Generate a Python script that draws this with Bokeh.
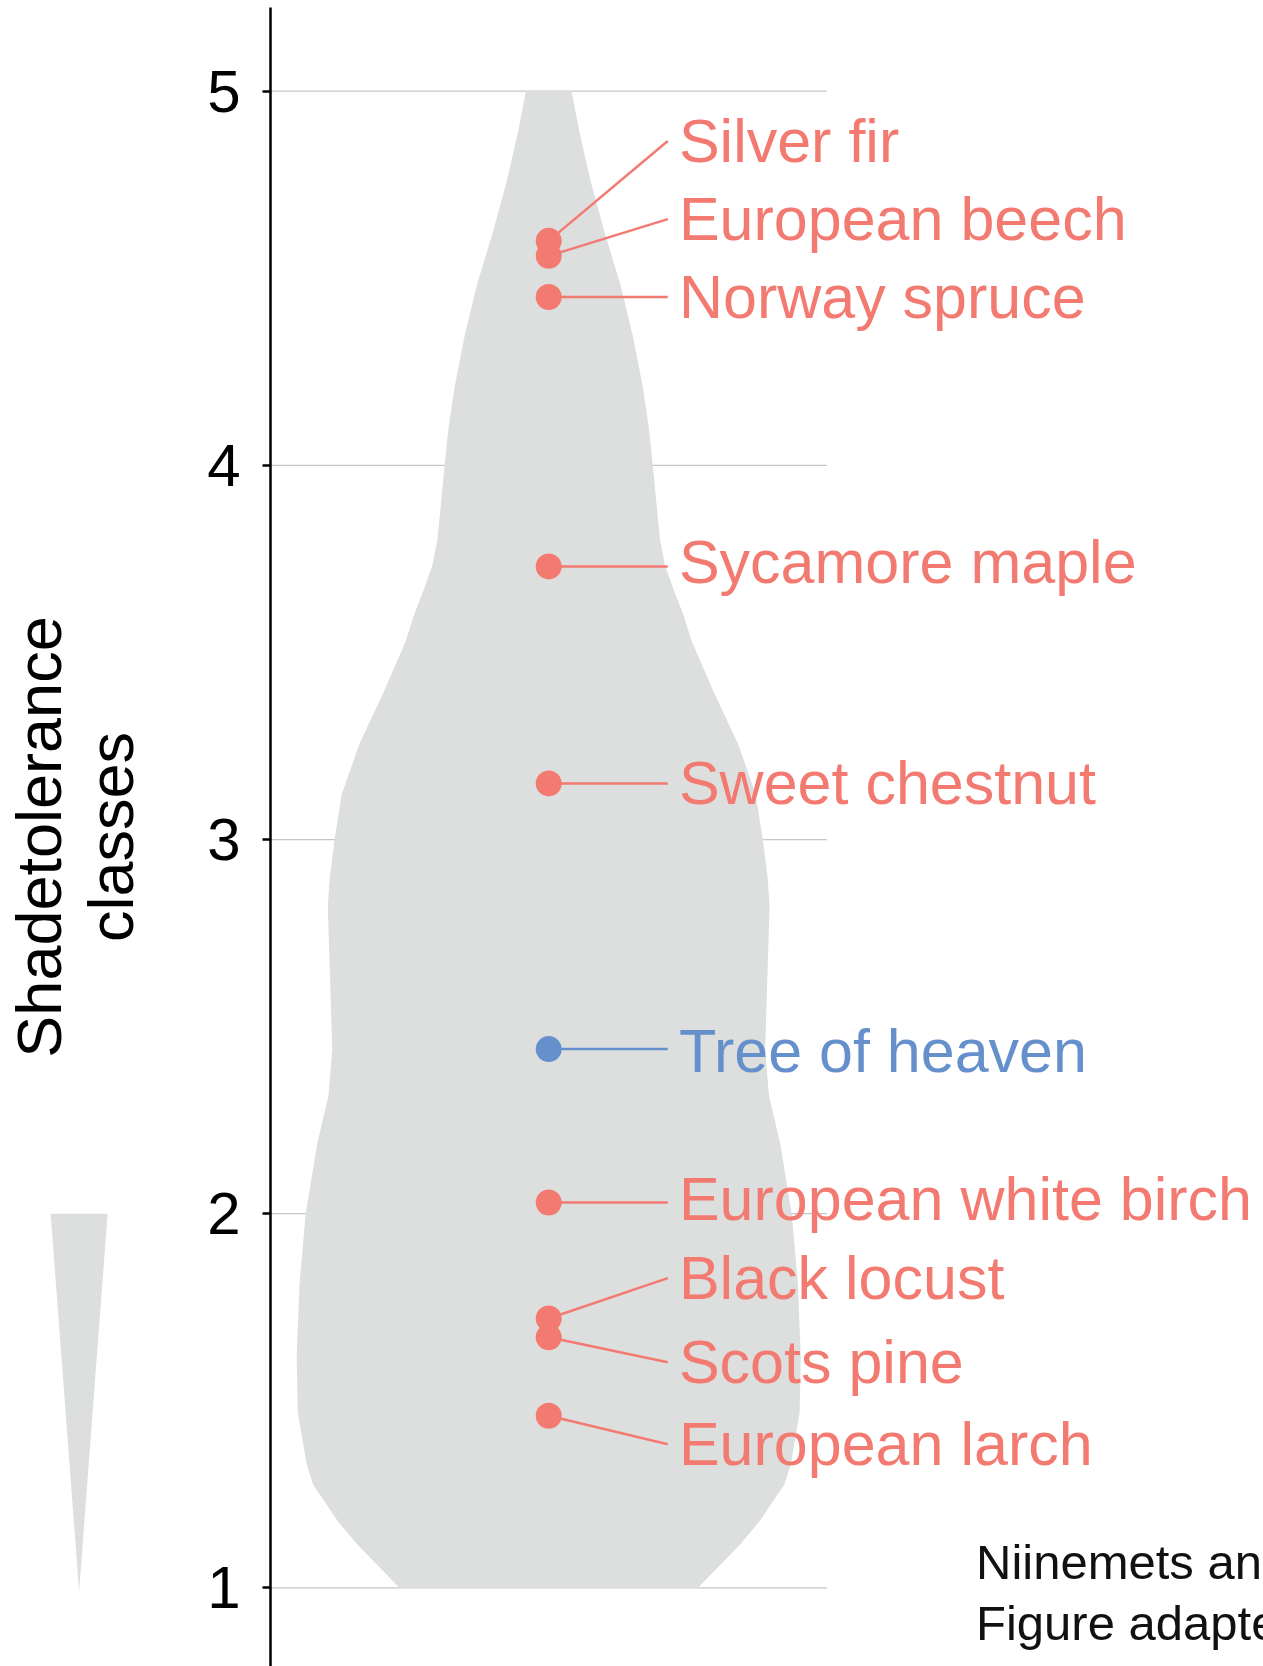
from bokeh.plotting import figure
from bokeh.models import LinearAxis, FixedTicker, Range1d, ColumnDataSource
from bokeh.embed import file_html
from bokeh.resources import INLINE
from bokeh.core.properties import value

# ---------------- data ----------------
species = ["Silver fir", "European beech", "Norway spruce", "Sycamore maple",
           "Sweet chestnut", "Tree of heaven", "European white birch",
           "Black locust", "Scots pine", "European larch"]
shade_tolerance = [4.60, 4.56, 4.45, 3.73, 3.15, 2.44, 2.03, 1.72, 1.67, 1.46]
status = ["native", "native", "native", "native", "native", "introduced",
          "native", "native", "native", "native"]

# repelled label positions (layout)
label_y = [4.867, 4.658, 4.451, 3.743, 3.150, 2.434, 2.038, 1.828, 1.603, 1.384]

# violin outline: density half-widths
violin_y = [5.0, 4.892, 4.756, 4.620, 4.483, 4.347, 4.211, 4.101, 4.0, 3.802,
            3.733, 3.666, 3.597, 3.530, 3.393, 3.257, 3.121, 2.998, 2.891,
            2.819, 2.629, 2.439, 2.314, 2.188, 1.998, 1.809, 1.620, 1.469,
            1.330, 1.274, 1.242, 1.178, 1.116, 1.052, 1.0]
violin_half = [0.041, 0.055, 0.076, 0.101, 0.129, 0.151, 0.169, 0.180, 0.187,
               0.200, 0.209, 0.225, 0.243, 0.257, 0.297, 0.340, 0.372, 0.385,
               0.394, 0.397, 0.393, 0.389, 0.396, 0.416, 0.437, 0.448, 0.453,
               0.451, 0.435, 0.423, 0.408, 0.379, 0.344, 0.302, 0.268]

tick_vals = [1, 2, 3, 4, 5]
caption = ["Niinemets and Valladares (2006)", "Figure adapted from"]
caption_y = [1.070, 0.905]

# ---------------- style ----------------
SALMON = "#F37A71"
BLUE = "#6690CC"
VIOLIN = "#DDDFDE"
GRID = "#C6C6C6"
FONT = "Liberation Sans"
colors = {"native": SALMON, "introduced": BLUE}

CENTER = 1.0
PANEL = (0.5, 1.5)
SEG_END = 1.214
LABEL_X = 1.234

p = figure(width=1263, height=1666,
           x_range=Range1d(0.0147, 2.2847), y_range=Range1d(0.7899, 5.2424),
           output_backend="svg", toolbar_location=None,
           x_axis_location=None, y_axis_location=None,
           min_border=0, outline_line_color=None,
           background_fill_color="white", border_fill_color="white")
p.grid.visible = False

# horizontal gridlines within the panel only
p.segment(x0=[PANEL[0]] * len(tick_vals), x1=[PANEL[1]] * len(tick_vals),
          y0=tick_vals, y1=tick_vals, line_color=GRID, line_width=1.3)

# violin
vx = [CENTER - h for h in violin_half] + [CENTER + h for h in reversed(violin_half)]
vy = list(violin_y) + list(reversed(violin_y))
p.patch(vx, vy, fill_color=VIOLIN, line_color=None)

# shade gradient wedge
wedge_center, wedge_half = 0.156, 0.0512
p.patch([wedge_center - wedge_half, wedge_center + wedge_half, wedge_center],
        [2, 2, 0.99], fill_color=VIOLIN, line_color=None)

# connector ends: straight when the label sits level with its point
seg_y = [ly if abs(ly - y) > 0.03 else y for ly, y in zip(label_y, shade_tolerance)]

src = ColumnDataSource(dict(
    species=species, y=shade_tolerance, ly=label_y, sy=seg_y,
    x=[CENTER] * len(species), sx=[SEG_END] * len(species),
    lx=[LABEL_X] * len(species),
    color=[colors[s] for s in status]))

p.segment(x0="x", y0="y", x1="sx", y1="sy", line_color="color",
          line_width=2.5, source=src)
p.scatter(x="x", y="y", size=26, fill_color="color", line_color=None, source=src)
p.text(x="lx", y="ly", text="species", text_color="color",
       text_font=value(FONT), text_font_size="61px",
       text_baseline="middle", text_align="left", source=src)

# caption (runs off the right edge, as in the original)
p.text(x=[1.768, 1.768], y=caption_y, text=caption, text_color="#111111",
       text_font=value(FONT), text_font_size="49px",
       text_baseline="middle", text_align="left")

# y axis
yaxis = LinearAxis(fixed_location=PANEL[0], ticker=FixedTicker(ticks=tick_vals),
                   axis_label="Shadetolerance\nclasses", bounds=(0.7, 5.224))
yaxis.axis_line_width = 2.5
yaxis.axis_line_color = "black"
yaxis.major_tick_line_width = 2.5
yaxis.major_tick_line_color = "black"
yaxis.major_tick_out = 8
yaxis.major_tick_in = 0
yaxis.minor_tick_out = 0
yaxis.minor_tick_in = 0
yaxis.major_label_text_font = FONT
yaxis.major_label_text_font_size = "60px"
yaxis.major_label_text_color = "black"
yaxis.major_label_standoff = 22
yaxis.axis_label_text_font = FONT
yaxis.axis_label_text_font_size = "63px"
yaxis.axis_label_text_font_style = "normal"
yaxis.axis_label_text_color = "black"
yaxis.axis_label_text_line_height = 1.03
yaxis.axis_label_standoff = 58
p.add_layout(yaxis, "left")

open("out.html", "w").write(file_html(p, INLINE))
